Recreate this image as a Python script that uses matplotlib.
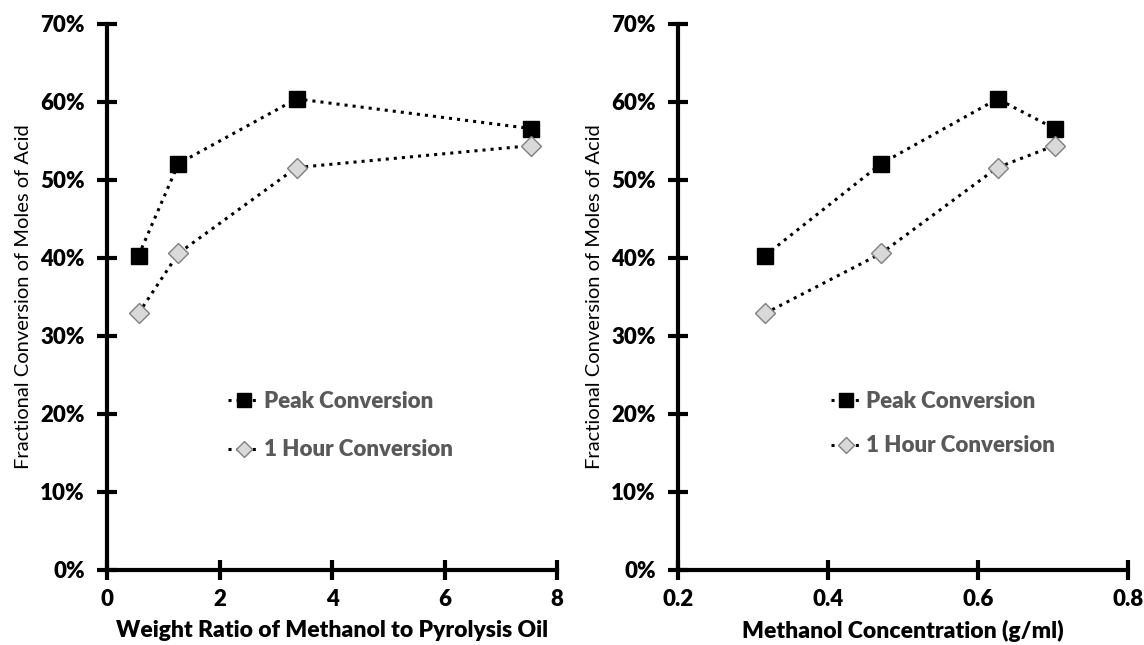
import matplotlib.pyplot as plt
from matplotlib.ticker import FuncFormatter, MultipleLocator

plt.rcParams['font.family'] = ['Lato', 'DejaVu Sans']

# 측정 데이터
weight_ratio = [0.56, 1.27, 3.37, 7.53]
methanol_conc = [0.316, 0.471, 0.626, 0.702]
peak_conv = [0.403, 0.521, 0.604, 0.566]
hour_conv = [0.329, 0.406, 0.516, 0.544]

fig = plt.figure(figsize=(11.44, 6.45), dpi=100)
ax1 = fig.add_axes([107 / 1144, 75 / 645, 450 / 1144, 546 / 645])
ax2 = fig.add_axes([678 / 1144, 75 / 645, 450 / 1144, 546 / 645])


def style_axis(ax, xdata, xlim, xstep, xlabel, legend_anchor, spacing):
    ax.plot(xdata, peak_conv, linestyle=':', color='black', linewidth=2.2,
            marker='s', markersize=12, markerfacecolor='black',
            markeredgecolor='black', label='Peak Conversion')
    ax.plot(xdata, hour_conv, linestyle=':', color='black', linewidth=2.2,
            marker='D', markersize=10, markerfacecolor='#d9d9d9',
            markeredgecolor='#808080', markeredgewidth=1,
            label='1 Hour Conversion')
    ax.set_xlim(*xlim)
    ax.set_ylim(0, 0.7)
    ax.xaxis.set_major_locator(MultipleLocator(xstep))
    ax.yaxis.set_major_locator(MultipleLocator(0.1))
    ax.yaxis.set_major_formatter(FuncFormatter(lambda v, p: f'{v * 100:.0f}%'))
    ax.xaxis.set_major_formatter(FuncFormatter(lambda v, p: f'{v:g}'))
    for s in ['top', 'right']:
        ax.spines[s].set_visible(False)
    for s in ['left', 'bottom']:
        ax.spines[s].set_linewidth(3)
    ax.tick_params(direction='inout', length=14, width=3, labelsize=16)
    ax.tick_params(axis='y', pad=9)
    ax.tick_params(axis='x', pad=7)
    for lbl in ax.get_xticklabels() + ax.get_yticklabels():
        lbl.set_fontweight('heavy')
    ax.set_xlabel(xlabel, fontsize=16.5, fontweight='heavy', labelpad=7)
    ax.set_ylabel('Fractional Conversion of Moles of Acid', fontsize=14.5, labelpad=6)
    leg = ax.legend(loc='upper left', bbox_to_anchor=legend_anchor, frameon=False,
                    handlelength=1.4, handletextpad=0.2, markerscale=0.85,
                    labelspacing=spacing, prop={'weight': 'heavy', 'size': 16})
    for t in leg.get_texts():
        t.set_color('#595959')


style_axis(ax1, weight_ratio, (0, 8), 2,
           'Weight Ratio of Methanol to Pyrolysis Oil', (0.225, 0.365), 1.25)
style_axis(ax2, methanol_conc, (0.2, 0.8), 0.2,
           'Methanol Concentration (g/ml)', (0.295, 0.365), 1.07)

fig.savefig('out.png', dpi=100)
